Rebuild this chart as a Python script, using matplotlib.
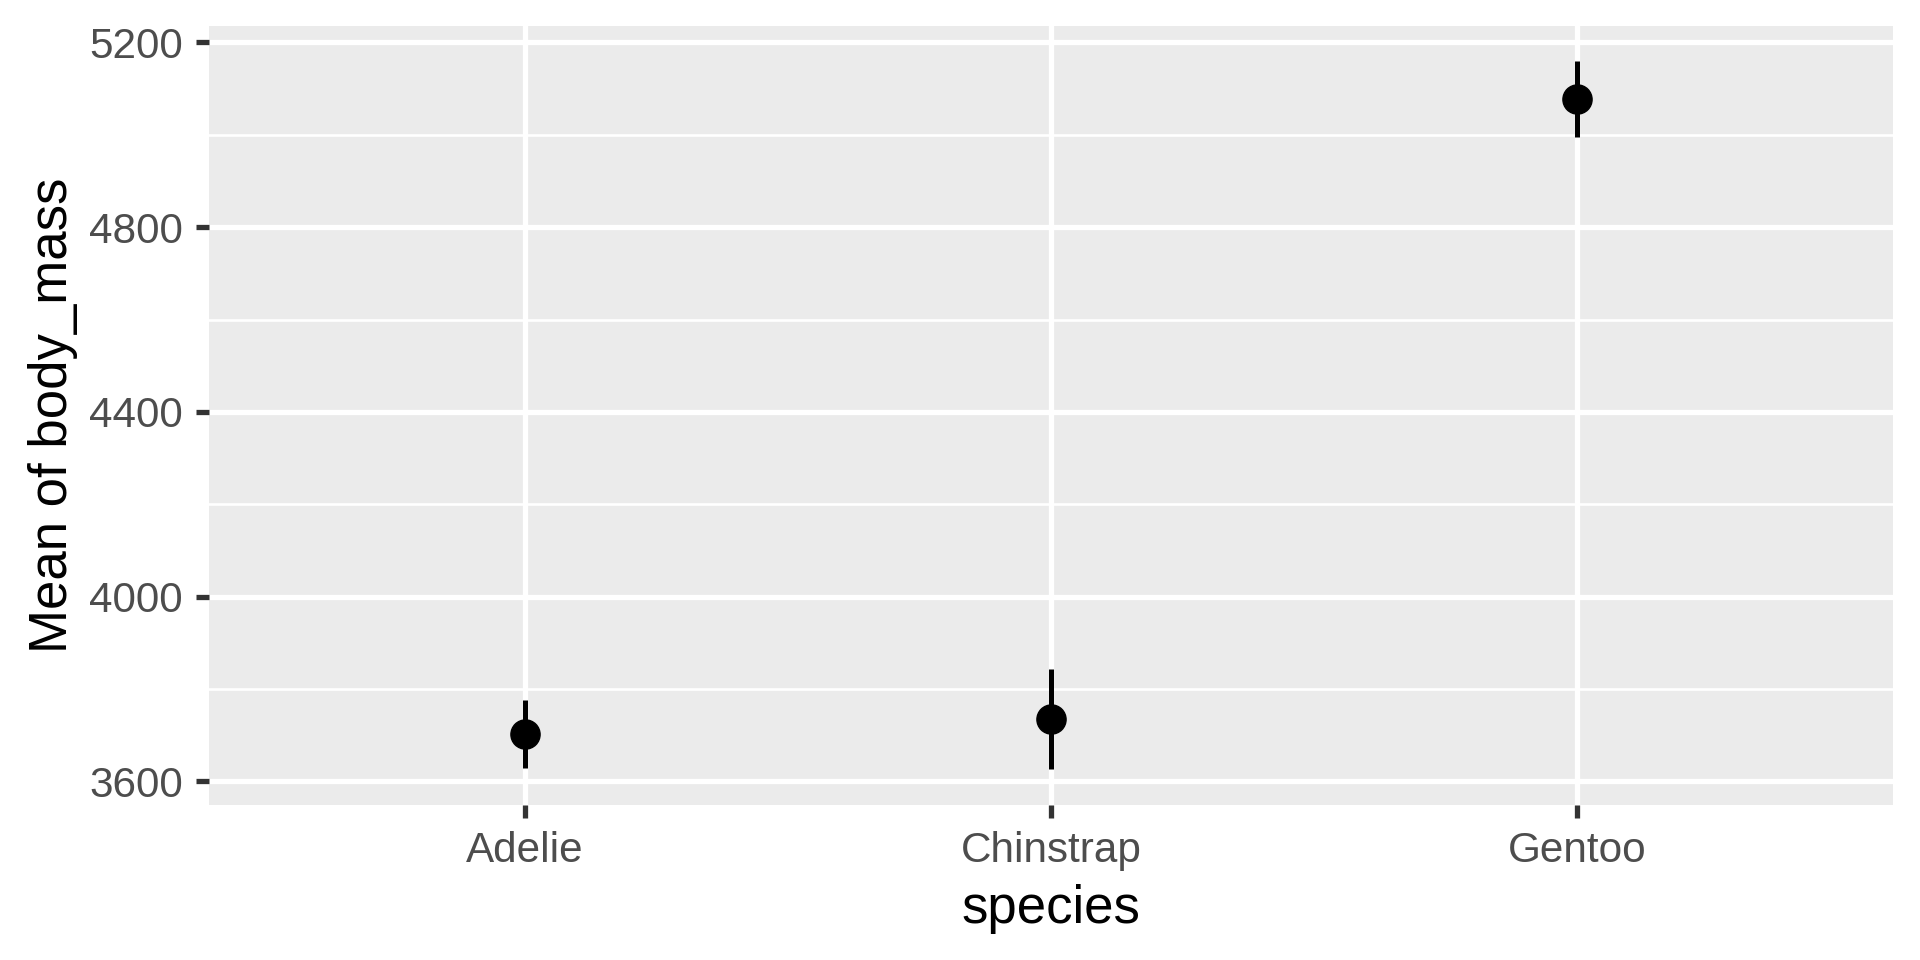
import matplotlib
matplotlib.use("Agg")
import matplotlib.pyplot as plt
from matplotlib.ticker import MultipleLocator

# mean body mass per species with interval ends
species = ["Adelie", "Chinstrap", "Gentoo"]
mean_mass = [3702, 3735, 5077]
ci_low = [3628, 3626, 4995]
ci_high = [3776, 3843, 5159]

plt.rcParams["font.family"] = ["Liberation Sans", "DejaVu Sans"]

W, H = 1920, 960
fig = plt.figure(figsize=(W / 100, H / 100), dpi=100)
# panel placed like the ggplot panel
ax = fig.add_axes([209 / W, 1 - 804.7 / H, 1684 / W, 778.7 / H])
ax.set_facecolor("#EBEBEB")
for s in ax.spines.values():
    s.set_visible(False)

x = list(range(len(species)))
ax.vlines(x, ci_low, ci_high, color="black", lw=3.6, zorder=3)
ax.plot(x, mean_mass, "o", color="black", ms=21, zorder=4)

# ggplot style expansion
lo, hi = min(ci_low), max(ci_high)
pad = 0.05 * (hi - lo)
ax.set_ylim(lo - pad, hi + pad)
ax.set_xlim(-0.6, len(species) - 0.4)

ax.set_xticks(x)
ax.set_xticklabels(species)
ax.yaxis.set_major_locator(MultipleLocator(400))
ax.yaxis.set_minor_locator(MultipleLocator(200))

ax.set_axisbelow(True)
ax.grid(which="major", color="white", lw=3.8)
ax.grid(which="minor", axis="y", color="white", lw=1.9)

ax.tick_params(which="major", length=9.4, width=3.8, color="#333333",
               labelcolor="#4D4D4D", labelsize=30.4, pad=9.5)
ax.tick_params(which="minor", length=0)

ax.set_xlabel("species", fontsize=38, color="black")
ax.xaxis.label.set_va("baseline")
ax.xaxis.set_label_coords(0.5, -(922.7 - 804.7) / 778.7)

ax.set_ylabel("Mean of body_mass", fontsize=38, color="black")
ax.yaxis.label.set_rotation_mode("default")
ax.yaxis.label.set_va("center")
ax.yaxis.label.set_ha("center")
ax.yaxis.set_label_coords((53 - 209) / 1684, 0.5)

fig.savefig("out.png", dpi=100)
